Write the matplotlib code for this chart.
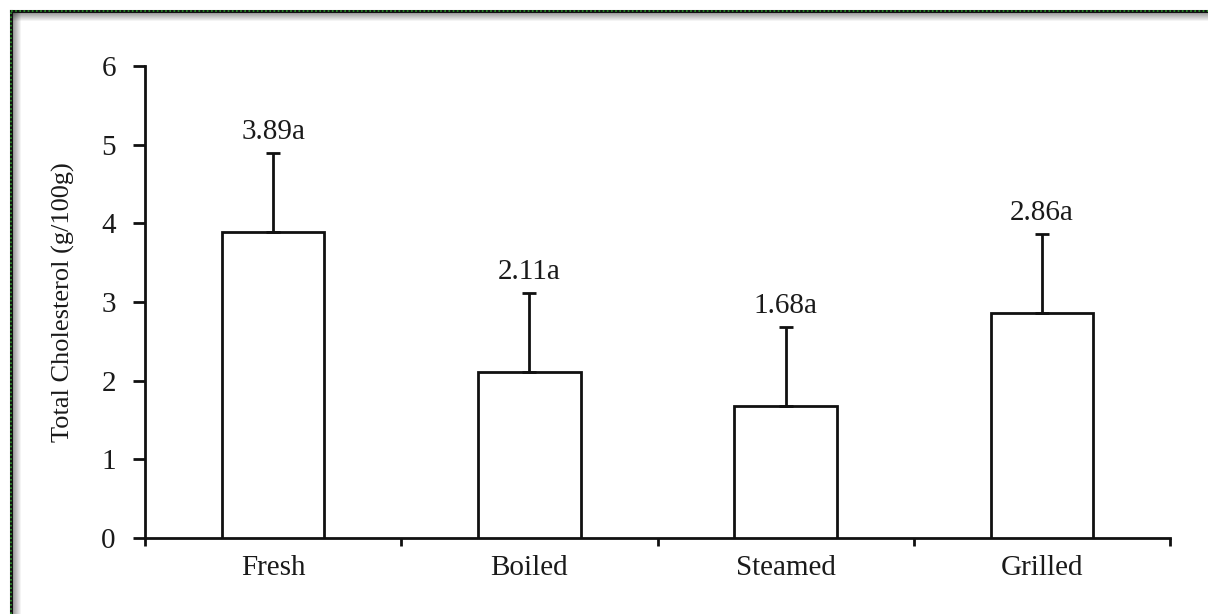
import matplotlib
matplotlib.use("Agg")
import matplotlib.pyplot as plt
from matplotlib.lines import Line2D
import numpy as np

plt.rcParams["font.family"] = ["Liberation Serif", "DejaVu Serif"]

# Cholesterol content by cooking method
methods = ["Fresh", "Boiled", "Steamed", "Grilled"]
means = [3.89, 2.11, 1.68, 2.86]
errors = [1.0, 1.0, 1.0, 1.0]
letters = ["a", "a", "a", "a"]

TEXT = "#1a1a1a"
INK = "#111111"
LW = 2.0
W_PX, H_PX = 1208, 614

fig = plt.figure(figsize=(W_PX / 100, H_PX / 100), dpi=100, facecolor="white")
ax = fig.add_axes([145 / W_PX, 76 / H_PX, 1025 / W_PX, 472 / H_PX])

x = np.arange(len(methods))
ax.bar(x, means, 0.4, color="white", edgecolor=INK, linewidth=LW, zorder=3)
ax.errorbar(x, means, yerr=[np.zeros(len(errors)), errors], fmt="none",
            ecolor=INK, elinewidth=LW, capsize=5, capthick=LW, zorder=4)

for xi, m, e, l in zip(x, means, errors, letters):
    ax.annotate(f"{m:.2f}{l}", (xi, m + e), xytext=(0, 10), textcoords="offset points",
                ha="center", va="baseline", fontsize=21, color=TEXT)

ax.set_xlim(-0.5, len(methods) - 0.5)
ax.set_ylim(0, 6)

# boundary ticks between categories, labels at the centres
ax.set_xticks(np.arange(len(methods) + 1) - 0.5)
ax.set_xticklabels([])
ax.set_xticks(x, minor=True)
ax.set_xticklabels(methods, minor=True, fontsize=21, color=TEXT)
ax.tick_params(axis="x", which="major", direction="out", length=6, width=LW, color=INK)
ax.tick_params(axis="x", which="minor", length=0, pad=12)

ax.set_yticks(range(0, 7))
ax.tick_params(axis="y", direction="out", length=9, width=LW, color=INK,
               labelsize=21, labelcolor=TEXT, pad=12)

ax.set_ylabel("Total Cholesterol (g/100g)", fontsize=19, color=TEXT)
ax.yaxis.set_label_coords(-0.068, 0.5)

for s in ["top", "right"]:
    ax.spines[s].set_visible(False)
for s in ["left", "bottom"]:
    ax.spines[s].set_linewidth(LW)
    ax.spines[s].set_color(INK)

# frame: dark dotted edge on top and left with a soft inner shadow
top = 1 - 11 / H_PX
left = 11 / W_PX
for i in range(9):
    a = 0.4 * (1 - i / 9)
    fig.add_artist(Line2D([left, 1], [top - (i + 1) / H_PX] * 2, color="black",
                          alpha=a, linewidth=0.75, transform=fig.transFigure))
    fig.add_artist(Line2D([left + (i + 1) / W_PX] * 2, [0, top], color="black",
                          alpha=a, linewidth=0.75, transform=fig.transFigure))
fig.add_artist(Line2D([left, 1], [top, top], color=INK, linewidth=2.2,
                      transform=fig.transFigure))
fig.add_artist(Line2D([left, left], [0, top], color=INK, linewidth=2.2,
                      transform=fig.transFigure))
fig.add_artist(Line2D([left, 1], [top, top], color="#2a9a2a", linewidth=1.2,
                      linestyle=(0, (1, 1.5)), transform=fig.transFigure))
fig.add_artist(Line2D([left, left], [0, top], color="#2a9a2a", linewidth=1.2,
                      linestyle=(0, (1, 1.5)), transform=fig.transFigure))

fig.savefig("out.png", dpi=100, facecolor="white")
